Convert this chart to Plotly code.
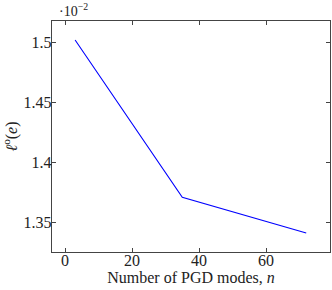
import plotly.graph_objects as go

# Data (values in units of 1e-2)
modes = [3, 35, 72]
error_vals = [1.5017, 1.3706, 1.3408]
x_ticks = [0, 20, 40, 60]
y_ticks = [1.35, 1.40, 1.45, 1.50]
y_tick_labels = ["1.35", "1.4", "1.45", "1.5"]

FONT = "Liberation Serif"
AXCOL = "#444444"
TXT = "#222222"

fig = go.Figure()
fig.add_trace(go.Scatter(x=modes, y=error_vals, mode="lines",
                         line=dict(color="#0000ff", width=1.1),
                         showlegend=False, hoverinfo="skip"))

axis_common = dict(showgrid=False, zeroline=False, showline=True, linecolor=AXCOL,
                   linewidth=1.2, mirror="allticks", ticks="inside", ticklen=4,
                   tickcolor=AXCOL, tickwidth=1, automargin=False,
                   tickfont=dict(family=FONT, size=16, color=TXT))

fig.update_layout(
    width=332, height=290,
    margin=dict(l=52, r=2, t=21, b=38, autoexpand=False),
    plot_bgcolor="white", paper_bgcolor="white",
    xaxis=dict(range=[-3.9, 79.1], tickvals=x_ticks, ticklabelstandoff=-6,
               title=dict(text="Number of PGD modes, <i>n</i>", standoff=3,
                          font=dict(family=FONT, size=16, color=TXT)),
               **axis_common),
    yaxis=dict(range=[1.325, 1.5175], tickvals=y_ticks, ticktext=y_tick_labels,
               ticklabelstandoff=-4,
               title=dict(text="<i>ℓ</i><sup>o</sup>(<i>e</i>)", standoff=3,
                          font=dict(family=FONT, size=16, color=TXT)),
               **axis_common),
    annotations=[dict(text="·10<sup>−2</sup>", xref="paper", yref="paper",
                      x=0.0, y=1.0, xanchor="left", yanchor="bottom", xshift=5, yshift=0,
                      showarrow=False, font=dict(family=FONT, size=14, color=TXT))],
)

fig.write_html("out.html", config={"displayModeBar": False, "staticPlot": True},
               post_script="document.body.style.margin='0';")
